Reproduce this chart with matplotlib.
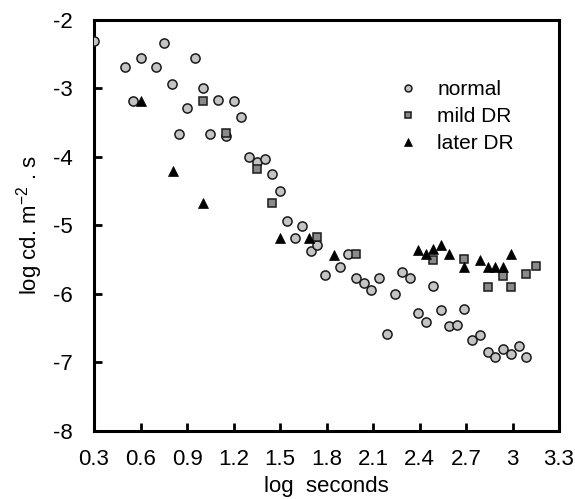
import matplotlib
matplotlib.use("Agg")
import matplotlib.pyplot as plt

plt.rcParams['font.family'] = ['Liberation Sans', 'DejaVu Sans']
plt.rcParams['mathtext.fontset'] = 'custom'
plt.rcParams['mathtext.rm'] = 'Liberation Sans'
plt.rcParams['mathtext.it'] = 'Liberation Sans'

normal_x = [0.30, 0.50, 0.55, 0.60, 0.70, 0.75, 0.80, 0.85, 0.90, 0.95, 1.00, 1.05,
            1.10, 1.15, 1.20, 1.25, 1.30, 1.35, 1.40, 1.45, 1.50, 1.545, 1.595, 1.645,
            1.70, 1.74, 1.79, 1.89, 1.94, 1.99, 2.04, 2.09, 2.14, 2.19, 2.24, 2.29,
            2.34, 2.39, 2.44, 2.49, 2.54, 2.59, 2.64, 2.69, 2.74, 2.79, 2.84, 2.89,
            2.94, 2.99, 3.04, 3.09]
normal_y = [-2.31, -2.68, -3.18, -2.55, -2.68, -2.34, -2.93, -3.66, -3.29, -2.56, -2.99, -3.67,
            -3.17, -3.70, -3.18, -3.42, -4.00, -4.07, -4.03, -4.25, -4.49, -4.94, -5.19, -5.01,
            -5.37, -5.28, -5.72, -5.60, -5.42, -5.76, -5.84, -5.94, -5.76, -6.58, -6.00, -5.68,
            -5.76, -6.28, -6.41, -5.89, -6.23, -6.47, -6.45, -6.22, -6.67, -6.60, -6.84, -6.92,
            -6.81, -6.88, -6.76, -6.92]

mild_x = [1.00, 1.15, 1.35, 1.45, 1.74, 1.99, 2.49, 2.69, 2.84, 2.94, 2.99, 3.09, 3.15]
mild_y = [-3.18, -3.65, -4.18, -4.67, -5.17, -5.41, -5.50, -5.49, -5.90, -5.74, -5.90, -5.71, -5.59]

later_x = [0.60, 0.81, 1.00, 1.50, 1.69, 1.85, 2.39, 2.44, 2.49, 2.54, 2.59, 2.69, 2.79,
           2.84, 2.89, 2.94, 2.99]
later_y = [-3.19, -4.20, -4.67, -5.19, -5.19, -5.43, -5.36, -5.42, -5.34, -5.29, -5.42, -5.60,
           -5.50, -5.60, -5.60, -5.60, -5.41]

xticks = [0.3, 0.6, 0.9, 1.2, 1.5, 1.8, 2.1, 2.4, 2.7, 3.0, 3.3]
xtick_labels = ['0.3', '0.6', '0.9', '1.2', '1.5', '1.8', '2.1', '2.4', '2.7', '3', '3.3']
yticks = [-8, -7, -6, -5, -4, -3, -2]

fig = plt.figure(figsize=(5.75, 4.99), dpi=100)
ax = fig.add_axes([0.1635, 0.1363, 0.8087, 0.8237])

ax.plot(normal_x, normal_y, linestyle='none', marker='o', ms=6.6, mfc='#c4c4c4',
        mec='#1a1a1a', mew=1.1, label='normal', zorder=3)
ax.plot(mild_x, mild_y, linestyle='none', marker='s', ms=6.0, mfc='#8a8a8a',
        mec='#1a1a1a', mew=1.1, label='mild DR', zorder=4)
ax.plot(later_x, later_y, linestyle='none', marker='^', ms=7.5, mfc='black',
        mec='black', mew=0.5, label='later DR', zorder=5)

ax.set_xlim(0.3, 3.3)
ax.set_ylim(-8, -2)
ax.set_xticks(xticks)
ax.set_xticklabels(xtick_labels)
ax.set_yticks(yticks)
ax.set_yticklabels([str(v) for v in yticks])

for s in ax.spines.values():
    s.set_linewidth(2.2)
ax.tick_params(direction='in', length=5.5, width=2.0, labelsize=16)
ax.tick_params(axis='x', pad=13)
ax.tick_params(axis='y', pad=15)

ax.set_xlabel('log  seconds', fontsize=16, labelpad=4)
ax.set_ylabel(r'log cd. m$^{\mathregular{ -2}}$ . s', fontsize=16, labelpad=6)

leg = ax.legend(loc='upper left', bbox_to_anchor=(0.633, 0.873), frameon=False,
                fontsize=15, handletextpad=0.85, labelspacing=0.38, markerscale=0.75,
                handlelength=1.1, borderaxespad=0)

fig.savefig('out.png', dpi=100)
